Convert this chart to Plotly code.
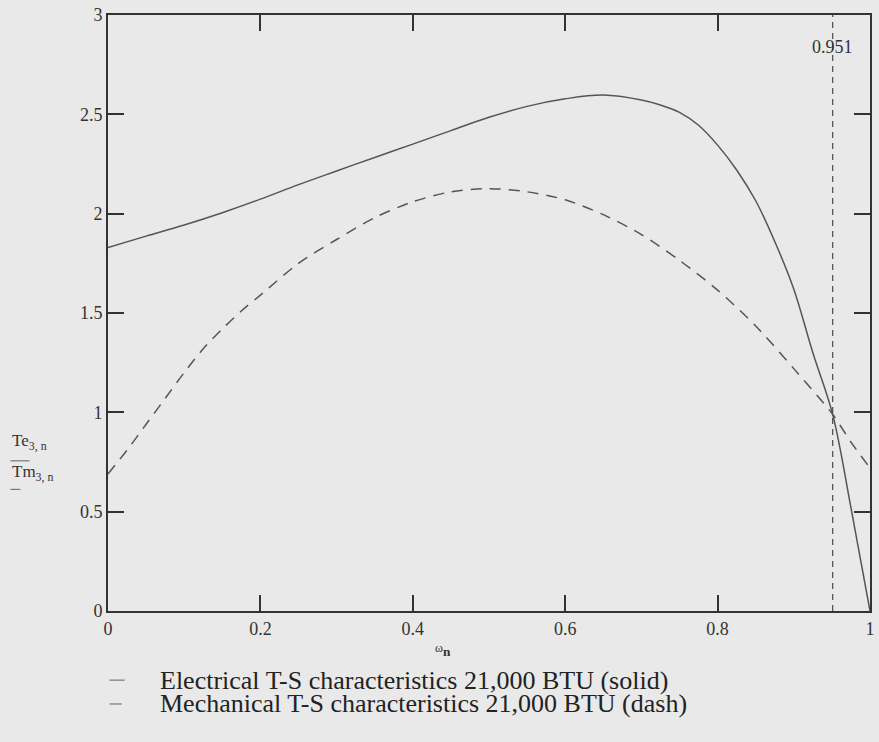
import plotly.graph_objects as go

# omega_n values (x) and torque curves
omega_e = [0, 0.05, 0.1, 0.15, 0.2, 0.25, 0.3, 0.35, 0.4, 0.45, 0.5, 0.55, 0.6, 0.65,
           0.7, 0.725, 0.75, 0.775, 0.8, 0.825, 0.85, 0.875, 0.9, 0.925, 0.951, 0.975, 1.0]
te_vals = [1.83, 1.887, 1.943, 2.005, 2.073, 2.146, 2.215, 2.283, 2.35, 2.418, 2.485, 2.54,
           2.578, 2.597, 2.572, 2.547, 2.51, 2.445, 2.345, 2.22, 2.065, 1.86, 1.62, 1.30,
           0.99, 0.52, 0.0]

omega_m = [0, 0.025, 0.05, 0.075, 0.1, 0.125, 0.15, 0.175, 0.2, 0.25, 0.3, 0.35, 0.4,
           0.45, 0.5, 0.55, 0.6, 0.65, 0.7, 0.75, 0.8, 0.85, 0.9, 0.951, 0.975, 1.0]
tm_vals = [0.69, 0.81, 0.94, 1.07, 1.20, 1.32, 1.42, 1.51, 1.59, 1.75, 1.87, 1.98, 2.06,
           2.11, 2.126, 2.11, 2.07, 1.995, 1.895, 1.765, 1.615, 1.435, 1.22, 0.99, 0.85, 0.72]

marker_x = 0.951
marker_label = "0.951"
x_ticks = [0, 0.2, 0.4, 0.6, 0.8, 1]
x_ticktext = ["0", "0.2", "0.4", "0.6", "0.8", "1"]
y_ticks = [0, 0.5, 1, 1.5, 2, 2.5, 3]
y_ticktext = ["0", "0.5", "1", "1.5", "2", "2.5", "3"]
legend_texts = ["Electrical T-S characteristics 21,000 BTU (solid)",
                "Mechanical T-S characteristics 21,000 BTU (dash)"]

BG = "#e9e9e9"
AX = "#333333"
LINE = "#555555"
FONT = "Liberation Serif"

fig = go.Figure()
fig.add_trace(go.Scatter(x=omega_e, y=te_vals, mode="lines",
                         line=dict(color=LINE, width=1.5, shape="spline", smoothing=1.0),
                         name=legend_texts[0], showlegend=False))
fig.add_trace(go.Scatter(x=omega_m, y=tm_vals, mode="lines",
                         line=dict(color=LINE, width=1.5, dash="11px,8px", shape="spline", smoothing=0.8),
                         name=legend_texts[1], showlegend=False))
fig.add_trace(go.Scatter(x=[marker_x, marker_x], y=[0, 3], mode="lines",
                         line=dict(color=LINE, width=1.3, dash="6px,5px"), showlegend=False))

fig.add_annotation(x=marker_x, y=2.84, text=marker_label, showarrow=False,
                   font=dict(family=FONT, size=18, color="#333"), xanchor="center", yanchor="middle")

# y-axis labels with line samples
fig.add_annotation(xref="paper", yref="paper", x=-0.128, y=0.283, xanchor="left", yanchor="middle",
                   text="Te<sub>3, n</sub>", showarrow=False, font=dict(family=FONT, size=17, color="#333"))
fig.add_annotation(xref="paper", yref="paper", x=-0.128, y=0.231, xanchor="left", yanchor="middle",
                   text="Tm<sub>3, n</sub>", showarrow=False, font=dict(family=FONT, size=17, color="#333"))
fig.add_shape(type="line", xref="paper", yref="paper", x0=-0.128, x1=-0.103, y0=0.252, y1=0.252,
              line=dict(color="#777", width=1.2))
fig.add_shape(type="line", xref="paper", yref="paper", x0=-0.128, x1=-0.115, y0=0.204, y1=0.204,
              line=dict(color="#777", width=1.2))

# x-axis title
fig.add_annotation(xref="paper", yref="paper", x=0.44, y=-0.066, xanchor="center", yanchor="middle",
                   text="<span style='font-size:12px'>ω</span><sub><b>n</b></sub>", showarrow=False,
                   font=dict(family=FONT, size=19, color="#333"))

# legend
for i, t in enumerate(legend_texts):
    yy = -0.116 - i * 0.040
    fig.add_shape(type="line", xref="paper", yref="paper", x0=0.002, x1=0.022 if i == 0 else 0.018,
                  y0=yy, y1=yy, line=dict(color="#777", width=1.2))
    fig.add_annotation(xref="paper", yref="paper", x=0.065, y=yy, xanchor="left", yanchor="middle",
                       text=t, showarrow=False, font=dict(family=FONT, size=26, color="#222"))

axis_common = dict(showline=True, linecolor=AX, linewidth=2, mirror="ticks", ticks="inside",
                   ticklen=16, tickwidth=2, tickcolor=AX, showgrid=False, zeroline=False,
                   tickfont=dict(family=FONT, size=18, color="#333"))
fig.update_xaxes(range=[0, 1], tickvals=x_ticks, ticktext=x_ticktext, **axis_common)
fig.update_yaxes(range=[0, 3], tickvals=y_ticks, ticktext=y_ticktext, **axis_common)

fig.update_layout(width=879, height=742, margin=dict(l=108, r=4, t=15, b=131),
                  paper_bgcolor=BG, plot_bgcolor=BG, showlegend=False)

fig.write_html("out.html")
